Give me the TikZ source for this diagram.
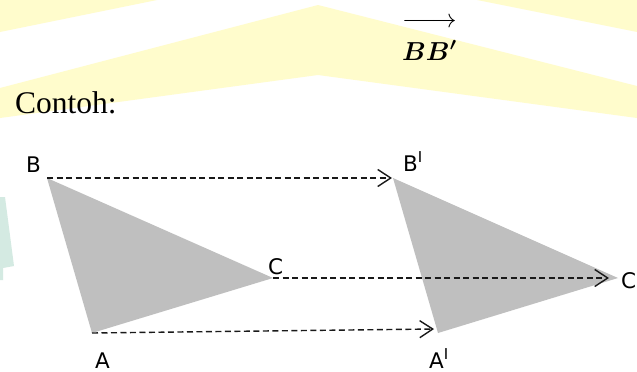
\RequirePackage{fix-cm}
\documentclass[tikz,border=0pt]{standalone}
\usepackage{amsmath,bm}
\usepackage{fontspec}
\setmainfont{Liberation Serif}
\newfontfamily\labfont{DejaVu Sans}
\usetikzlibrary{arrows.meta}
\definecolor{wmyellow}{RGB}{255,252,204}
\definecolor{wmgreen}{RGB}{212,234,226}
\definecolor{trigray}{RGB}{191,191,191}
\newcommand\barsup{\raisebox{8.5pt}{\fontsize{15}{15}\selectfont I}}
\begin{document}
\begin{tikzpicture}[x=1pt,y=-1pt,
  lbl/.style={inner sep=0pt,anchor=base west,font=\labfont\fontsize{21.5}{21.5}\selectfont},
  shiftarrow/.style={draw=black!90,line width=1.4pt,dash pattern=on 6pt off 3.5pt,
    -{Straight Barb[length=13pt,width=17pt,line width=1.4pt]}},
  tri/.style={fill=trigray,draw=none}]
\useasboundingbox (0,0) rectangle (637,372);
\fill[white] (0,0) rectangle (637,372);
% watermark
\fill[wmyellow] (0,0) -- (0,32) -- (157,0) -- cycle;
\fill[wmyellow] (477,0) -- (637,32) -- (637,0) -- cycle;
\fill[wmyellow] (0,88) -- (318,5) -- (637,86) -- (637,118) -- (318,75) -- (0,118) -- cycle;
\fill[wmgreen] (0,197) -- (5,197) -- (14,266) -- (3,268) -- (3,280) -- (0,280) -- cycle;
% texts
\node[inner sep=0pt,anchor=base west,font=\fontsize{26}{26}\selectfont] (vec) at (402,60)
  {$\overrightarrow{\rule{0pt}{33pt}\boldsymbol{BB'}}$};
\node[inner sep=0pt,anchor=base west,font=\fontsize{31.5}{31.5}\selectfont] (ex) at (15,113) {Contoh:};
% vertices
\coordinate (B) at (47,178);
\coordinate (C) at (273,278);
\coordinate (A) at (92,333);
\coordinate (B2) at (393,178);
\coordinate (C2) at (618,278);
\coordinate (A2) at (438,333);
\fill[tri] (B) -- (C) -- (A) -- cycle;
\fill[tri] (B2) -- (C2) -- (A2) -- cycle;
% arrows
\draw[shiftarrow] (B) -- ([xshift=-1pt]B2);
\draw[shiftarrow] (C) -- ([xshift=-9pt]C2);
\draw[shiftarrow] (A) -- ([xshift=-4pt,yshift=4pt]A2);
% labels
\node[lbl] (lB) at (26,172) {B};
\node[lbl] (lB2) at (403,171) {B\barsup};
\node[lbl] (lC) at (268,274) {C};
\node[lbl] (lC2) at (621,288) {C};
\node[lbl] (lA) at (95,368) {A};
\node[lbl] (lA2) at (429,368) {A\barsup};
\end{tikzpicture}
\end{document}
